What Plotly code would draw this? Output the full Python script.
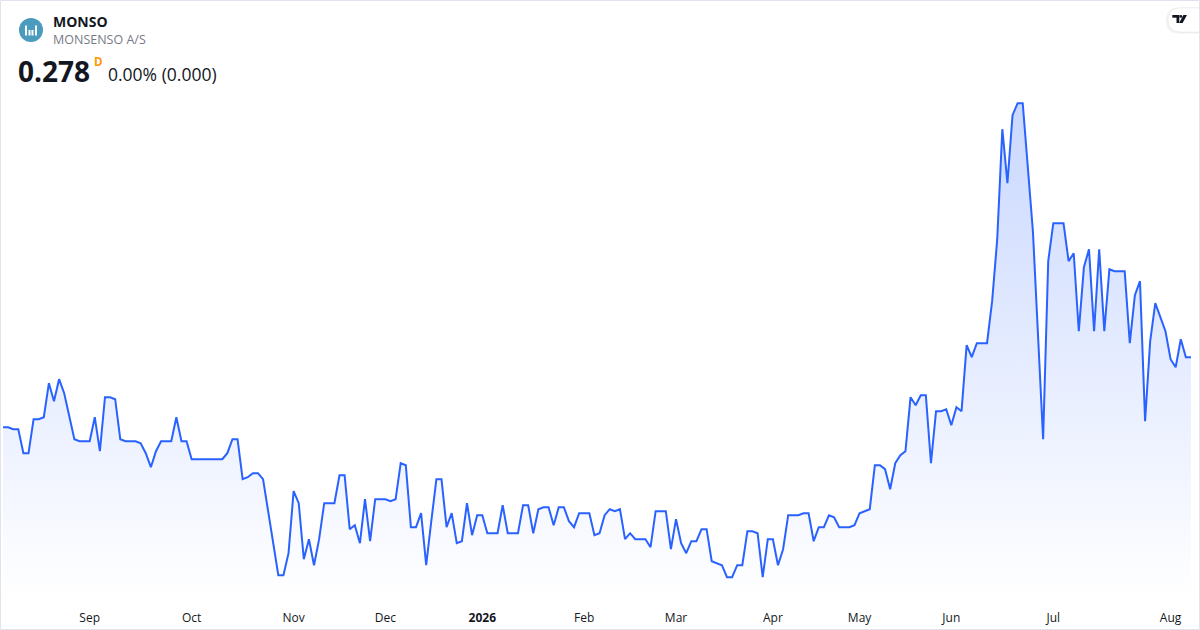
import plotly.graph_objects as go

#######################################
# data (daily close)
#######################################
close = [
    0.243, 0.243, 0.242, 0.242, 0.230, 0.230, 0.247, 0.247, 0.248, 0.265,
    0.256, 0.267, 0.260, 0.249, 0.237, 0.236, 0.236, 0.236, 0.248, 0.231,
    0.258, 0.258, 0.257, 0.237, 0.236, 0.236, 0.236, 0.235, 0.230, 0.223,
    0.231, 0.236, 0.236, 0.236, 0.248, 0.236, 0.236, 0.227, 0.227, 0.227,
    0.227, 0.227, 0.227, 0.227, 0.230, 0.237, 0.237, 0.217, 0.218, 0.220,
    0.220, 0.217, 0.201, 0.185, 0.169, 0.169, 0.180, 0.211, 0.205, 0.177,
    0.187, 0.174, 0.187, 0.205, 0.205, 0.205, 0.219, 0.219, 0.192, 0.194,
    0.185, 0.207, 0.186, 0.207, 0.207, 0.207, 0.206, 0.207, 0.225, 0.224,
    0.193, 0.193, 0.200, 0.174, 0.196, 0.217, 0.217, 0.193, 0.200, 0.185,
    0.186, 0.205, 0.189, 0.199, 0.199, 0.190, 0.190, 0.190, 0.204, 0.190,
    0.190, 0.190, 0.204, 0.204, 0.190, 0.202, 0.203, 0.203, 0.194, 0.203,
    0.203, 0.196, 0.193, 0.200, 0.200, 0.200, 0.189, 0.190, 0.199, 0.202,
    0.201, 0.202, 0.187, 0.190, 0.187, 0.187, 0.187, 0.183, 0.201, 0.201,
    0.201, 0.182, 0.197, 0.185, 0.180, 0.186, 0.186, 0.192, 0.192, 0.176,
    0.175, 0.174, 0.168, 0.168, 0.174, 0.174, 0.191, 0.191, 0.190, 0.168,
    0.187, 0.187, 0.174, 0.182, 0.199, 0.199, 0.199, 0.200, 0.200, 0.186,
    0.193, 0.193, 0.199, 0.198, 0.193, 0.193, 0.193, 0.194, 0.200, 0.201,
    0.202, 0.224, 0.224, 0.222, 0.212, 0.225, 0.229, 0.231, 0.258, 0.254,
    0.259, 0.259, 0.225, 0.251, 0.251, 0.252, 0.244, 0.253, 0.251, 0.284,
    0.278, 0.285, 0.285, 0.285, 0.306, 0.337, 0.392, 0.365, 0.399, 0.405,
    0.405, 0.373, 0.341, 0.289, 0.237, 0.326, 0.345, 0.345, 0.345, 0.326,
    0.330, 0.291, 0.323, 0.332, 0.291, 0.332, 0.291, 0.322, 0.321, 0.321,
    0.321, 0.285, 0.309, 0.316, 0.246, 0.286, 0.305, 0.298, 0.291, 0.277,
    0.273, 0.287, 0.278, 0.278,
]
bar = list(range(len(close)))

# first bar of each month
month_idx = [17, 37, 57, 75, 94, 114, 132, 151, 168, 186, 206, 229]
month_labels = ['Sep', 'Oct', 'Nov', 'Dec', '<b>2026</b>', 'Feb', 'Mar',
                'Apr', 'May', 'Jun', 'Jul', 'Aug']

ticker = 'MONSO'
company = 'MONSENSO A/S'
last_price = '0.278'
change_txt = '0.00% (0.000)'

W, H = 1200, 630
PLOT_H = 600
FONT = 'Open Sans'
BLUE = '#2962FF'
INK = '#131722'


def px(x):
    return x / W


def py(y):
    return 1 - y / PLOT_H


def pill(x0, x1, y0, y1):
    # rounded-left badge outline, in paper coords
    r = (y1 - y0) / 2
    return (f'M {px(x0 + r)} {py(y0)} L {px(x1)} {py(y0)} L {px(x1)} {py(y1)} '
            f'L {px(x0 + r)} {py(y1)} Q {px(x0)} {py(y1)} {px(x0)} {py(y0 + r)} '
            f'Q {px(x0)} {py(y0)} {px(x0 + r)} {py(y0)} Z')


#######################################
# figure
#######################################
fig = go.Figure()
fig.add_trace(go.Scatter(
    x=bar, y=close, mode='lines',
    line=dict(color=BLUE, width=2),
    fill='tozeroy',
    fillgradient=dict(type='vertical', start=0.1566, stop=0.4566,
                      colorscale=[[0, 'rgba(41,98,255,0.0)'],
                                  [1, 'rgba(41,98,255,0.30)']]),
    hoverinfo='skip',
))

shapes = []
# symbol logo
shapes.append(dict(type='circle', xref='paper', yref='paper',
                   x0=px(19), x1=px(43), y0=py(42), y1=py(18),
                   fillcolor='#4a9bbd', line=dict(width=0)))
for (x0, x1, top) in [(25, 27, 25.5), (28.5, 30.5, 30), (31.5, 33.5, 30), (35, 37, 25.5)]:
    shapes.append(dict(type='rect', xref='paper', yref='paper',
                       x0=px(x0), x1=px(x1), y0=py(35.5), y1=py(top),
                       fillcolor='white', line=dict(width=0)))
# tradingview badge
shapes.append(dict(type='path', xref='paper', yref='paper', path=pill(1166, 1212, 7.5, 33.5),
                   fillcolor='rgba(19,23,34,0.05)', line=dict(width=0)))
shapes.append(dict(type='path', xref='paper', yref='paper', path=pill(1168, 1212, 8, 32),
                   fillcolor='white', line=dict(color='rgba(19,23,34,0.06)', width=1)))
shapes.append(dict(type='rect', xref='paper', yref='paper',
                   x0=px(1172.3), x1=px(1179.3), y0=py(17.7), y1=py(15),
                   fillcolor=INK, line=dict(width=0)))
shapes.append(dict(type='rect', xref='paper', yref='paper',
                   x0=px(1176.5), x1=px(1179.3), y0=py(23), y1=py(15),
                   fillcolor=INK, line=dict(width=0)))
shapes.append(dict(type='circle', xref='paper', yref='paper',
                   x0=px(1179.6), x1=px(1182.2), y0=py(17.7), y1=py(15.1),
                   fillcolor=INK, line=dict(width=0)))
shapes.append(dict(type='path', xref='paper', yref='paper',
                   path=f'M {px(1183.3)} {py(15)} L {px(1187)} {py(15)} '
                        f'L {px(1182.6)} {py(23)} L {px(1179.2)} {py(23)} Z',
                   fillcolor=INK, line=dict(width=0)))
# outer frame
shapes.append(dict(type='rect', xref='paper', yref='paper',
                   x0=px(0.5), x1=px(W - 0.5), y0=py(H - 0.5), y1=py(0.5),
                   line=dict(color='#e0e3eb', width=1), layer='above'))

annotations = [
    dict(text=f'<b>{ticker}</b>', x=px(51), y=py(21), font=dict(size=14, color=INK)),
    dict(text=company, x=px(51), y=py(40), font=dict(size=12.5, color='#787b86')),
    dict(text=f'<b>{last_price}</b>', x=px(16), y=py(71), font=dict(size=28, color=INK)),
    dict(text='<b>D</b>', x=px(92), y=py(61), font=dict(size=11.5, color='#ff9800')),
    dict(text=change_txt, x=px(106), y=py(74), font=dict(size=17.5, color=INK)),
]
for a in annotations:
    a.update(xref='paper', yref='paper', xanchor='left', yanchor='middle',
             showarrow=False)
    a['font']['family'] = FONT

fig.update_layout(
    width=W, height=H,
    margin=dict(l=0, r=0, t=0, b=H - PLOT_H),
    paper_bgcolor='white', plot_bgcolor='white',
    showlegend=False, hovermode=False,
    font=dict(family=FONT, color=INK),
    shapes=shapes, annotations=annotations,
)
fig.update_xaxes(range=[-0.59, 234.77], tickvals=month_idx, ticktext=month_labels,
                 showgrid=False, zeroline=False, showline=False, ticks='',
                 ticklabelstandoff=9,
                 tickfont=dict(size=12, color=INK), fixedrange=True)
fig.update_yaxes(range=[0.1566, 0.4566], visible=False, fixedrange=True)

fig.write_html('out.html', config={'displayModeBar': False},
               post_script="document.body.style.margin='0';")
